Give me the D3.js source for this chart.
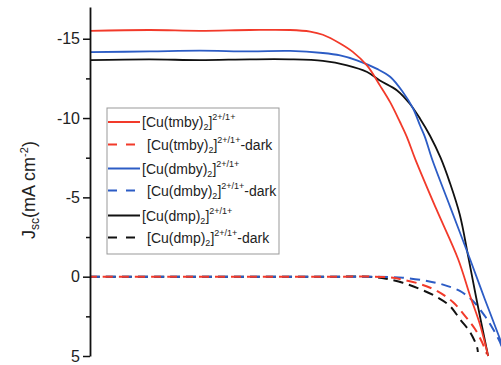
<!DOCTYPE html>
<html><head><meta charset="utf-8">
<script src="https://cdn.jsdelivr.net/npm/d3@7/dist/d3.min.js"></script>
<style>
html,body{margin:0;padding:0;background:#fff;}
svg{display:block;font-family:"Liberation Sans",Arial,sans-serif;}
</style></head>
<body>
<svg id="chart" width="501" height="365"></svg>
<script>
// ---- data (x: relative voltage, y: Jsc in mA cm^-2) ----
const tmbyLight = [[0,-15.5],[0.146,-15.55],[0.268,-15.5],[0.39,-15.55],[0.488,-15.55],[0.537,-15.45],[0.568,-15.25],[0.61,-14.7],[0.641,-14.17],[0.676,-13.3],[0.707,-12.06],[0.732,-11.0],[0.756,-9.75],[0.773,-8.8],[0.793,-7.43],[0.844,-4.3],[0.898,-1.1],[0.927,1.2],[0.951,3.0],[0.971,5.0]];
const dmbyLight = [[0,-14.15],[0.146,-14.2],[0.268,-14.25],[0.39,-14.2],[0.488,-14.23],[0.568,-14.1],[0.61,-13.95],[0.651,-13.64],[0.7,-13.1],[0.732,-12.6],[0.763,-11.64],[0.788,-10.6],[0.805,-9.53],[0.817,-8.8],[0.834,-7.43],[0.878,-4.43],[0.927,-1.1],[0.963,1.42],[1.0,3.93],[1.005,4.3]];
const dmpLight = [[0,-13.65],[0.146,-13.7],[0.268,-13.65],[0.39,-13.7],[0.488,-13.7],[0.568,-13.6],[0.627,-13.32],[0.676,-12.9],[0.707,-12.37],[0.749,-11.74],[0.78,-10.9],[0.805,-9.96],[0.829,-8.9],[0.855,-7.5],[0.878,-5.9],[0.902,-3.9],[0.923,-1.2],[0.946,1.85],[0.971,5.0]];
const tmbyDark = [[0,0],[0.2,0],[0.4,0],[0.6,0],[0.695,0],[0.732,0.05],[0.756,0.15],[0.805,0.46],[0.846,0.9],[0.885,1.6],[0.915,2.48],[0.939,3.3],[0.956,4.12],[0.968,4.88]];
const dmbyDark = [[0,0],[0.2,0],[0.4,0],[0.6,0],[0.7,0],[0.732,0.02],[0.763,0.06],[0.822,0.27],[0.861,0.5],[0.902,0.9],[0.934,1.53],[0.963,2.48],[0.983,3.3],[1.0,4.12],[1.005,4.5]];
const dmpDark = [[0,0],[0.2,0],[0.4,0],[0.6,0],[0.68,0],[0.712,0.08],[0.732,0.18],[0.763,0.38],[0.805,0.78],[0.846,1.28],[0.878,1.85],[0.902,2.67],[0.927,3.49],[0.944,4.44],[0.946,4.75]];

const majorTicks = [-15,-10,-5,0,5];
const minorTicks = [-12.5,-7.5,-2.5,2.5];
const seriesNames = ["tmby","tmby","dmby","dmby","dmp","dmp"];
const seriesDark = [false,true,false,true,false,true];
const seriesColors = ["#f23a2a","#f23a2a","#2c5cc5","#2c5cc5","#111111","#111111"];
const seriesData = [tmbyLight,tmbyDark,dmbyLight,dmbyDark,dmpLight,dmpDark];

// ---- drawing ----
const svg = d3.select("#chart");
const x = d3.scaleLinear().domain([0,1]).range([90,500]);
const y = d3.scaleLinear().domain([-17,5]).range([7,356]);

const line = d3.line().x(d=>x(d[0])).y(d=>y(d[1])).curve(d3.curveCatmullRom.alpha(0.5));

const plot = svg.append("g");
const order = [5,3,1,4,2,0];
order.forEach(i=>{
  plot.append("path").datum(seriesData[i])
    .attr("d", line).attr("fill","none")
    .attr("stroke", seriesColors[i])
    .attr("stroke-width", seriesDark[i] ? 2 : 1.8)
    .attr("stroke-dasharray", seriesDark[i] ? "10,6" : null)
    .attr("stroke-dashoffset", i===1 ? 3 : 0);
});

// axis
const ax = svg.append("g").attr("transform","translate(90,0)")
  .call(d3.axisLeft(y).tickValues(majorTicks).tickSize(7).tickSizeOuter(0).tickPadding(3).tickFormat(d=>String(d)));
ax.select(".domain").attr("stroke","#111").attr("stroke-width",1.8);
ax.selectAll(".tick line").attr("stroke","#111").attr("stroke-width",1.5);
ax.selectAll(".tick text").attr("font-size",16).attr("fill","#222")
  .attr("font-family","'Liberation Sans',Arial,sans-serif");
const axm = svg.append("g").attr("transform","translate(90,0)")
  .call(d3.axisLeft(y).tickValues(minorTicks).tickSize(4).tickSizeOuter(0).tickFormat(""));
axm.select(".domain").remove();
axm.selectAll(".tick line").attr("stroke","#111").attr("stroke-width",1.5);

// y title
const t = svg.append("text").attr("transform","translate(35,190) rotate(-90)")
  .attr("text-anchor","middle").attr("font-size",18).attr("fill","#222");
t.append("tspan").text("J");
t.append("tspan").attr("font-size",12).attr("dy",4).text("sc");
t.append("tspan").attr("dy",-4).text("(mA cm");
t.append("tspan").attr("font-size",11).attr("dy",-7).text("-2");
t.append("tspan").attr("dy",7).text(")");

// legend
const lg = svg.append("g");
lg.append("rect").attr("x",107).attr("y",108).attr("width",172).attr("height",146)
  .attr("fill","#fff").attr("stroke","#999").attr("stroke-width",1);
const rowY = [122,144.5,168.5,190.5,215.5,237.5];
seriesNames.forEach((nm,i)=>{
  const yy = rowY[i];
  lg.append("line").attr("x1",108).attr("x2",140).attr("y1",yy).attr("y2",yy)
    .attr("stroke",seriesColors[i]).attr("stroke-width",2)
    .attr("stroke-dasharray", seriesDark[i] ? "9,9" : null);
  const tx = lg.append("text").attr("x", seriesDark[i] ? 147 : 142).attr("y", yy+5)
    .attr("font-size",14).attr("fill","#222");
  tx.append("tspan").text("[Cu(" + nm + ")");
  tx.append("tspan").attr("font-size",9).attr("dy",3).text("2");
  tx.append("tspan").attr("dy",-3).text("]");
  tx.append("tspan").attr("font-size",9).attr("dy",-7).text("2+/1+");
  if (seriesDark[i]) tx.append("tspan").attr("dy",7).text("-dark");
});
</script>
</body></html>
